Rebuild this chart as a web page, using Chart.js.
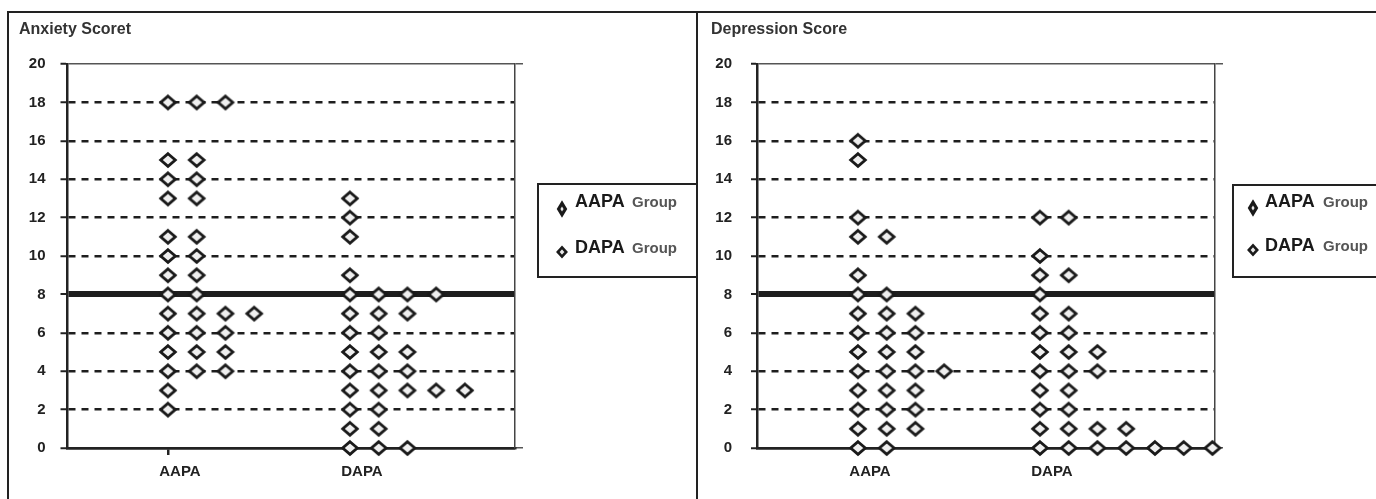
<!DOCTYPE html>
<html>
<head>
<meta charset="utf-8">
<script src="https://cdn.jsdelivr.net/npm/chart.js@4.4.1/dist/chart.umd.min.js"></script>
<style>
  body { margin: 0; background: #fff; width: 1376px; height: 499px; overflow: hidden; position: relative; }
  .panel { position: absolute; top: 11px; height: 520px; border-top: 2px solid #222; border-left: 2px solid #222; }
  #panelA { left: 7px; width: 687px; }
  #panelB { left: 696px; width: 690px; }
  canvas { display: block; }
</style>
</head>
<body>
<div class="panel" id="panelA"><canvas id="anxiety" width="687" height="486"></canvas></div>
<div class="panel" id="panelB"><canvas id="depression" width="678" height="486"></canvas></div>
<script>
// categories, legend labels, tick labels
const groups = ['AAPA', 'DAPA'];
const legendLabels = ['AAPA Group', 'DAPA Group'];
const scoreTicks = [0, 2, 4, 6, 8, 10, 12, 14, 16, 18, 20];
const cutOff = 8;

// individual scores
const anxietyAAPA = [18, 18, 18, 15, 15, 14, 14, 13, 13, 11, 11, 10, 10, 9, 9, 8, 8,
    7, 7, 7, 7, 6, 6, 6, 5, 5, 5, 4, 4, 4, 3, 2];
const anxietyDAPA = [13, 12, 11, 9, 8, 8, 8, 8, 7, 7, 7, 6, 6, 5, 5, 5, 4, 4, 4,
    3, 3, 3, 3, 3, 2, 2, 1, 1, 0, 0, 0];
const depressionAAPA = [16, 15, 12, 11, 11, 9, 8, 8, 7, 7, 7, 6, 6, 6, 5, 5, 5,
    4, 4, 4, 4, 3, 3, 3, 2, 2, 2, 1, 1, 1, 0, 0];
const depressionDAPA = [12, 12, 10, 9, 9, 8, 7, 7, 6, 6, 5, 5, 5, 4, 4, 4, 3, 3,
    2, 2, 1, 1, 1, 1, 0, 0, 0, 0, 0, 0, 0];

const FONT = '"Liberation Sans", Arial, sans-serif';
const colStep = 0.158; // horizontal gap between stacked dots, in x units

Chart.defaults.font.family = FONT;

// equal scores go side by side to the right of the group position
const stackDots = (scores, pos) => {
    const seen = {};
    return scores.map(s => {
        const col = seen[s] || 0;
        seen[s] = col + 1;
        return { x: pos + col * colStep, y: s };
    });
};

const makeDiamond = () => {
    const c = document.createElement('canvas');
    c.width = 22;
    c.height = 20;
    const g = c.getContext('2d');
    g.beginPath();
    g.moveTo(11, 10 - 6.3);
    g.lineTo(11 + 7.3, 10);
    g.lineTo(11, 10 + 6.3);
    g.lineTo(11 - 7.3, 10);
    g.closePath();
    g.fillStyle = '#efefef';
    g.fill();
    g.lineWidth = 2.8;
    g.strokeStyle = '#1a1a1a';
    g.stroke();
    return c;
};
const diamond = makeDiamond();

const legendMarker = (ctx, x, y, rx, ry, lw) => {
    ctx.beginPath();
    ctx.moveTo(x, y - ry);
    ctx.lineTo(x + rx, y);
    ctx.lineTo(x, y + ry);
    ctx.lineTo(x - rx, y);
    ctx.closePath();
    ctx.fillStyle = '#e8e8e8';
    ctx.fill();
    ctx.lineWidth = lw;
    ctx.strokeStyle = '#1a1a1a';
    ctx.stroke();
};

// framed legend with a bold group name and a lighter "Group"
const boxLegend = {
    id: 'boxLegend',
    afterDraw(chart, args, o) {
        const ctx = chart.ctx;
        ctx.save();
        ctx.lineWidth = 2;
        ctx.strokeStyle = '#222';
        ctx.strokeRect(o.x, o.y, o.w, o.h);
        chart.data.datasets.forEach((ds, i) => {
            const parts = ds.label.split(' ');
            const row = o.rows[i];
            if (i === 0) legendMarker(ctx, o.markerX, row.marker, 3.4, 5.6, 3.2);
            else legendMarker(ctx, o.markerX, row.marker, 4.2, 4.6, 2.6);
            ctx.textAlign = 'left';
            ctx.textBaseline = 'middle';
            ctx.fillStyle = '#1a1a1a';
            ctx.font = 'bold 18px ' + FONT;
            ctx.fillText(parts[0], o.textX, row.text);
            ctx.fillStyle = '#555';
            ctx.font = 'bold 15px ' + FONT;
            ctx.fillText(parts[1], o.groupX, row.text + 1);
        });
        ctx.restore();
    }
};

const gridWidth = v => v === cutOff ? 6 : v === 20 ? 1.5 : v === 0 ? 2.5 : 2.5;
const isDashed = v => v > 0 && v < 20 && v !== cutOff;
const tickFont = { family: FONT, size: 15, weight: 'bold' };

function buildChart(id, title, aapa, dapa, cfg) {
    return new Chart(document.getElementById(id), {
        type: 'scatter',
        data: {
            datasets: [
                { label: legendLabels[0], data: stackDots(aapa, 1), pointStyle: diamond, pointRadius: 8, clip: false },
                { label: legendLabels[1], data: stackDots(dapa, 2), pointStyle: diamond, pointRadius: 8, clip: false }
            ]
        },
        options: {
            responsive: false,
            animation: false,
            events: [],
            layout: { padding: { left: cfg.padLeft, right: cfg.padRight, top: 0, bottom: 0 } },
            plugins: {
                legend: { display: false },
                tooltip: { enabled: false },
                title: {
                    display: true,
                    text: title,
                    align: 'start',
                    color: '#333',
                    font: { family: FONT, size: 16, weight: 'bold' },
                    padding: { top: 7.4, bottom: 24.4 }
                },
                boxLegend: cfg.legend
            },
            scales: {
                x: {
                    type: 'linear',
                    min: cfg.xMin,
                    max: cfg.xMax,
                    afterBuildTicks: s => { s.ticks = groups.map((g, i) => ({ value: i + 1 })); },
                    afterFit: s => { s.height = 51; },
                    ticks: {
                        callback: v => groups[v - 1],
                        font: tickFont,
                        color: '#222',
                        padding: 8,
                        labelOffset: 12,
                        maxRotation: 0
                    },
                    grid: { drawOnChartArea: false, tickLength: 7, lineWidth: 2.5, color: '#222' },
                    border: { color: '#222', width: 2.5 }
                },
                y: {
                    min: 0,
                    max: 20,
                    afterBuildTicks: s => { s.ticks = scoreTicks.map(v => ({ value: v })); },
                    afterFit: s => { s.width = cfg.yWidth; },
                    ticks: { font: tickFont, color: '#222', padding: cfg.yPad },
                    grid: {
                        color: c => c.tick && c.tick.value === 20 ? '#555' : '#1e1e1e',
                        lineWidth: c => c.tick ? gridWidth(c.tick.value) : 2.5,
                        tickLength: cfg.yTick,
                        tickWidth: 2,
                        tickColor: '#222'
                    },
                    border: {
                        color: '#222',
                        width: 2.5,
                        dash: c => c.tick && isDashed(c.tick.value) ? [7, 6] : []
                    }
                },
                y2: {
                    position: 'right',
                    min: 0,
                    max: 20,
                    afterBuildTicks: s => { s.ticks = scoreTicks.map(v => ({ value: v })); },
                    afterFit: s => { s.width = 10; },
                    ticks: { display: false },
                    grid: {
                        drawOnChartArea: false,
                        tickLength: 8,
                        lineWidth: 1.5,
                        tickWidth: 1.5,
                        tickColor: c => c.tick && (c.tick.value === 0 || c.tick.value === 20) ? '#555' : 'rgba(0,0,0,0)'
                    },
                    border: { color: '#444', width: 1.5 }
                }
            }
        },
        plugins: [boxLegend]
    });
}

buildChart('anxiety', 'Anxiety Scoret', anxietyAAPA, anxietyDAPA, {
    padLeft: 10, padRight: 171, yWidth: 48.5, yPad: 15, yTick: 7,
    xMin: 0.448, xMax: 2.907,
    legend: {
        x: 529, y: 171, w: 170, h: 93, markerX: 553, textX: 566, groupX: 623,
        rows: [{ marker: 196, text: 189 }, { marker: 239, text: 235 }]
    }
});

buildChart('depression', 'Depression Score', depressionAAPA, depressionDAPA, {
    padLeft: 13, padRight: 151, yWidth: 46, yPad: 19, yTick: 6,
    xMin: 0.445, xMax: 2.962,
    legend: {
        x: 535, y: 172, w: 200, h: 92, markerX: 555, textX: 567, groupX: 625,
        rows: [{ marker: 195, text: 189 }, { marker: 237, text: 233 }]
    }
});
</script>
</body>
</html>
